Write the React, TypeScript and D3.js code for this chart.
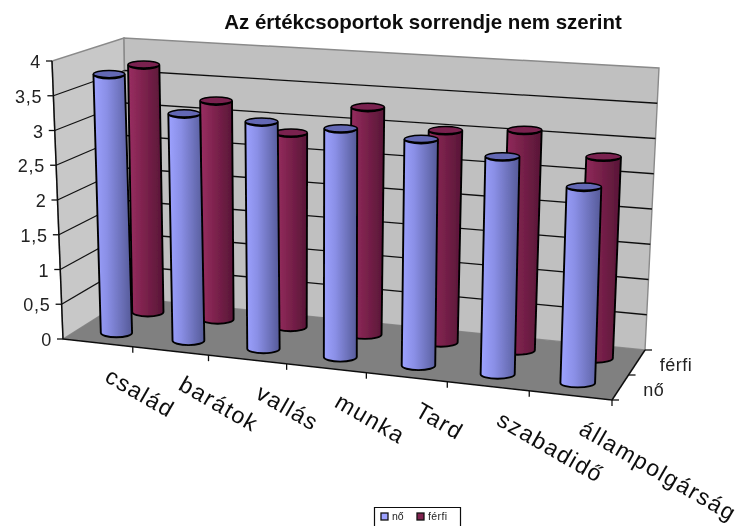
import React from "react";
import * as d3 from "d3";

const categories = ["család", "barátok", "vallás", "munka", "Tard", "szabadidő", "állampolgárság"];
const seriesNames = ["nő", "férfi"];
const noValues = [3.76, 3.26, 3.22, 3.2, 3.13, 2.97, 2.64];
const ferfiValues = [3.72, 3.25, 2.85, 3.3, 3.04, 3.12, 2.82];
const valueTicks = [0, 0.5, 1, 1.5, 2, 2.5, 3, 3.5, 4];
const valueLabels = ["0", "0,5", "1", "1,5", "2", "2,5", "3", "3,5", "4"];

const W = 741, H = 526;
// category axis carries a mild perspective
const uScale = d3.scalePow().exponent(1.06).domain([0, categories.length]).range([0, 1]);
const barPos = d3.scaleLinear().domain([0, categories.length - 1]).range([0.56, 6.48]);
const vScale = d3.scaleBand().domain(seriesNames).range([0, 1]);
const hScale = d3.scaleLinear().domain([0, 4]).range([0, 1]);
const fx0 = d3.scaleLinear().domain([0, 1]).range([63, 612]);
const fy0 = d3.scaleLinear().domain([0, 1]).range([339, 400]);
const bx0 = d3.scaleLinear().domain([0, 1]).range([128, 645]);
const by0 = d3.scaleLinear().domain([0, 1]).range([298, 350]);
const fx4 = d3.scaleLinear().domain([0, 1]).range([52, 622]);
const fy4 = d3.scaleLinear().domain([0, 1]).range([61, 95]);
const bx4 = d3.scaleLinear().domain([0, 1]).range([124, 659]);
const by4 = d3.scaleLinear().domain([0, 1]).range([38, 68]);

type P = [number, number];
function project(c: number, v: number, val: number): P {
  const u = uScale(c);
  const h = hScale(val);
  const bx = fx0(u) + (bx0(u) - fx0(u)) * v;
  const by = fy0(u) + (by0(u) - fy0(u)) * v;
  const tx = fx4(u) + (bx4(u) - fx4(u)) * v;
  const ty = fy4(u) + (by4(u) - fy4(u)) * v;
  return [bx + (tx - bx) * h, by + (ty - by) * h];
}
const poly = (pts: P[]) => d3.line()(pts as any) + "Z";
const seg = (a: P, b: P) => d3.line()([a, b] as any) as string;

function Cylinder({ c, s, val }: { c: number; s: string; val: number }) {
  const v = vScale(s)! + vScale.bandwidth() / 2;
  const cc = barPos(c);
  const base = project(cc, v, 0);
  const top = project(cc, v, val);
  const rxB = 15.5 + 2 * uScale(cc);
  const rxT = rxB;
  const ry = 4.5;
  const grad = s === "nő" ? "url(#gNo)" : "url(#gFerfi)";
  const capFill = s === "nő" ? "#6468b4" : "#7a2050";
  const body =
    `M${top[0] - rxT},${top[1]} L${base[0] - rxB},${base[1]} ` +
    `A${rxB},${ry} 0 0 0 ${base[0] + rxB},${base[1]} ` +
    `L${top[0] + rxT},${top[1]} A${rxT},${ry} 0 0 1 ${top[0] - rxT},${top[1]}Z`;
  const cap = `M${top[0] - rxT},${top[1]} A${rxT},${ry * 0.8} 0 0 1 ${top[0] + rxT},${top[1]} A${rxT},${ry * 0.8} 0 0 1 ${top[0] - rxT},${top[1]}Z`;
  return (
    <g>
      <path d={body} fill={grad} stroke="#000" strokeWidth={1.9} />
      <path d={cap} fill={capFill} stroke="#000" strokeWidth={1.5} />
    </g>
  );
}

export default function App() {
  const n = categories.length;
  const grid = valueTicks.slice(1, -1);
  return (
    <svg width={W} height={H} viewBox={`0 0 ${W} ${H}`}
      style={{ position: "absolute", left: 0, top: 0, background: "#fff" }}
      fontFamily="'Liberation Sans', Arial, sans-serif">
      <defs>
        <linearGradient id="gNo" x1="0" x2="1" y1="0" y2="0">
          <stop offset="0" stopColor="#9da2ff" />
          <stop offset="0.35" stopColor="#8a8fe6" />
          <stop offset="1" stopColor="#555a98" />
        </linearGradient>
        <linearGradient id="gFerfi" x1="0" x2="1" y1="0" y2="0">
          <stop offset="0" stopColor="#9a2f62" />
          <stop offset="0.4" stopColor="#80234f" />
          <stop offset="1" stopColor="#571636" />
        </linearGradient>
        <filter id="soft" x="-2%" y="-2%" width="104%" height="104%">
          <feGaussianBlur stdDeviation="0.5" />
        </filter>
      </defs>
      <g filter="url(#soft)">
        <path d={poly([project(0, 0, 0), project(0, 0, 4), project(0, 1, 4), project(0, 1, 0)])} fill="#c8c8c8" stroke="#8a8a8a" strokeWidth={1.4} />
        <path d={poly([project(0, 1, 0), project(0, 1, 4), project(n, 1, 4), project(n, 1, 0)])} fill="#c0c0c0" stroke="#8a8a8a" strokeWidth={1.4} />
        <path d={poly([project(0, 0, 0), project(0, 1, 0), project(n, 1, 0), project(n, 0, 0)])} fill="#808080" />
        {grid.map(t => (
          <g key={t}>
            <path d={seg(project(0, 0, t), project(0, 1, t))} stroke="#111" strokeWidth={1.3} fill="none" />
            <path d={seg(project(0, 1, t), project(n, 1, t))} stroke="#111" strokeWidth={1.3} fill="none" />
          </g>
        ))}
        {/* axes */}
        <path d={seg(project(0, 0, 0), project(0, 0, 4))} stroke="#111" strokeWidth={1.5} fill="none" />
        <path d={seg(project(0, 0, 0), project(n, 0, 0))} stroke="#111" strokeWidth={1.5} fill="none" />
        <path d={seg(project(n, 0, 0), project(n, 1, 0))} stroke="#111" strokeWidth={1.5} fill="none" />
        {valueTicks.map((t, i) => {
          const p = project(0, 0, t);
          return (
            <g key={t}>
              <path d={seg(p, [p[0] - 6, p[1]])} stroke="#111" strokeWidth={1.3} fill="none" />
              <text x={p[0] - 11} y={p[1] + 7} textAnchor="end" fontSize={18} letterSpacing={0.8} fill="#222">{valueLabels[i]}</text>
            </g>
          );
        })}
        {d3.range(1, n + 1).map(c => {
          const p = project(c, 0, 0);
          return <path key={c} d={seg(p, [p[0], p[1] + 6])} stroke="#111" strokeWidth={1.3} fill="none" />;
        })}
        {[0, 1, 2].map(i => {
          const p = project(n, i / 2, 0);
          return <path key={i} d={seg(p, [p[0] + 7, p[1]])} stroke="#111" strokeWidth={1.3} fill="none" />;
        })}
        {seriesNames.map(s => {
          const p = project(n, vScale(s)! + vScale.bandwidth() / 2, 0);
          return <text key={s} x={p[0] + 23} y={p[1] + 8} fontSize={18} letterSpacing={0.5} fill="#222">{s}</text>;
        })}
        {ferfiValues.map((val, c) => <Cylinder key={c} c={c} s="férfi" val={val} />)}
        {noValues.map((val, c) => <Cylinder key={c} c={c} s="nő" val={val} />)}
        {categories.map((cat, c) => {
          const p = project(c + 0.5, 0, 0);
          return (
            <text key={cat} transform={`translate(${p[0] + 7},${p[1] + 38}) rotate(30)`} fontSize={23} letterSpacing={1.5} fill="#111">{cat}</text>
          );
        })}
        <text x={423} y={29} textAnchor="middle" fontSize={20.5} fontWeight="bold" fill="#111">Az értékcsoportok sorrendje nem szerint</text>
        <path d="M374.5,530V507.5H460.5V530" fill="#fff" stroke="#111" strokeWidth={1.2} />
        <rect x={381} y={513} width={7} height={7} fill="#9da2ff" stroke="#111" strokeWidth={1.3} />
        <text x={392} y={520} fontSize={10.5} fill="#222">{seriesNames[0]}</text>
        <rect x={417} y={513} width={7} height={7} fill="#80234f" stroke="#111" strokeWidth={1.3} />
        <text x={428} y={520} fontSize={10.5} letterSpacing={0.4} fill="#222">{seriesNames[1]}</text>
      </g>
    </svg>
  );
}
